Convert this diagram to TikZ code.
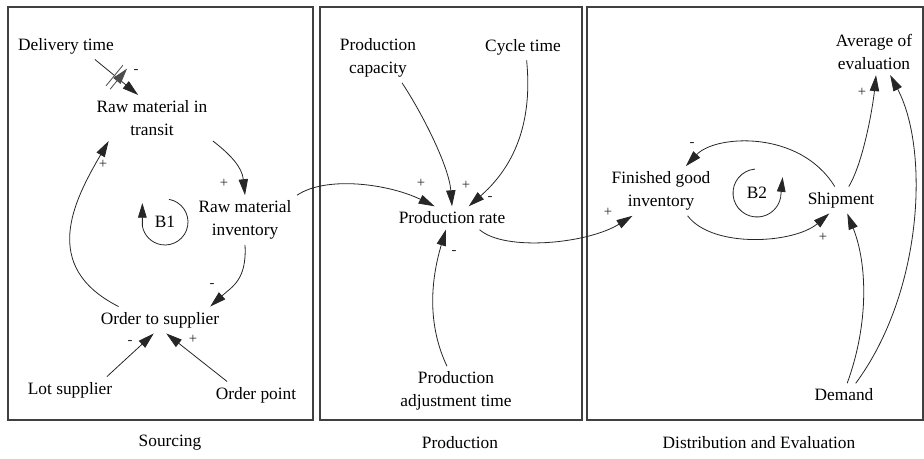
\documentclass[tikz,border=0pt]{standalone}
\usepackage{fontspec}
\setmainfont{Liberation Serif}
\usetikzlibrary{arrows.meta,decorations.markings}
\tikzset{
  concepto/.style={align=center,inner sep=4pt,font=\fontsize{13}{17}\selectfont,text=black},
  signo/.style={inner sep=0pt,font=\fontsize{11}{13}\selectfont,text=black!85},
  flecha/.style={-{Triangle[length=12pt,width=7pt]},line width=0.6pt,draw=black!85},
  bucle/.style={-{Triangle[length=11pt,width=6.5pt]},line width=0.6pt,draw=black!85},
  marco/.style={draw=black!75,line width=1.2pt},
  retardo/.style={postaction={decorate,decoration={markings,
    mark=at position 0.5 with {\draw[line width=0.6pt,black!70] (-2pt,-10pt) -- (-2pt,10pt) (2pt,-10pt) -- (2pt,10pt);}}}}
}
\begin{document}
\begin{tikzpicture}[x=0.75pt,y=-0.75pt]
    \useasboundingbox (0,0) rectangle (924,459);
    % Marcos
    \draw[marco] (8,7) rectangle (313,420);
    \draw[marco] (320,7) rectangle (582,420);
    \draw[marco] (587,7) rectangle (923,420);
    \node[concepto] (t1) at (170,443) {Sourcing};
    \node[concepto] (t2) at (460,443) {Production};
    \node[concepto] (t3) at (759,443) {Distribution and Evaluation};
    % Variables aprovisionamiento
    \node[concepto] (dt) at (66,46) {Delivery time};
    \node[concepto] (rmt) at (152,118) {Raw material in\\transit};
    \node[concepto] (rmi) at (245,220) {Raw material\\inventory};
    \node[concepto] (ots) at (160,320) {Order to supplier};
    \node[concepto] (ls) at (70,390) {Lot supplier};
    \node[concepto] (op) at (256,395) {Order point};
    \node[concepto] (b1) at (165,222) {B1};
    % Variables produccion
    \node[concepto] (pc) at (378,58) {Production\\capacity};
    \node[concepto] (ct) at (523,47) {Cycle time};
    \node[concepto] (pr) at (452,218) {Production rate};
    \node[concepto] (pat) at (456,391) {Production\\adjustment time};
    % Variables distribucion
    \node[concepto] (fgi) at (661,191) {Finished good\\inventory};
    \node[concepto] (sh) at (841,200) {Shipment};
    \node[concepto] (ae) at (874,52) {Average of\\evaluation};
    \node[concepto] (dm) at (844,395) {Demand};
    \node[concepto] (b2) at (757,193) {B2};
    % Conexiones aprovisionamiento
    \draw[flecha,retardo] (dt.-25) -- (rmt.121);
    \draw[flecha] (rmt.south east) .. controls +(18,14) and +(-3,-28) .. (rmi.north);
    \draw[flecha] (rmi.south) .. controls +(2,35) and +(22,-20) .. (ots.15);
    \draw[flecha] (ots.162) .. controls +(-79,-40) and +(-35,60) .. (rmt.-152);
    \draw[flecha] (ls.20) -- (ots.-115);
    \draw[flecha] (op.155) -- (ots.-65);
    \draw[bucle] ([shift={(-80:23)}]b1.center) arc[start angle=-80,end angle=170,radius=23] -- ++(0,-23);
    % Conexiones produccion
    \draw[flecha] (rmi.north east) .. controls +(30,-20) and +(-45,-22) .. (pr.146);
    \draw[flecha] (pc.-46) .. controls +(20,30) and +(-3,-40) .. (pr.north);
    \draw[flecha] (ct.-75) .. controls +(7,70) and +(40,-35) .. (pr.35);
    \draw[flecha] (pat.110) .. controls +(-22,-46.5) and +(-13,44) .. (pr.-118);
    \draw[flecha] (pr.-23) .. controls +(25,22) and +(-45,28) .. (fgi.-139);
    % Conexiones distribucion
    \draw[flecha] (fgi.-43) .. controls +(25,33) and +(-35,30) .. (sh.-131);
    \draw[flecha] (sh.115) .. controls +(-35,-57) and +(29.5,-31.5) .. (fgi.45);
    \draw[flecha] (sh.60) .. controls +(15,-25) and +(-3,30) .. (ae.-85);
    \draw[flecha] (dm.75) .. controls +(22,-60) and +(20,50) .. (sh.-65);
    \draw[flecha] (dm.45) .. controls +(68,-92) and +(39,73.5) .. (ae.-55);
    \draw[bucle] ([shift={(-95:24)}]b2.center) arc[start angle=-95,end angle=-350,radius=24] -- ++(2,-20);
    % Signos
    \node[signo] (s1) at (136,72) {-};
    \node[signo] (s2) at (224,183) {+};
    \node[signo] (s3) at (212,285) {-};
    \node[signo] (s4) at (103,164) {+};
    \node[signo] (s5) at (130,342) {-};
    \node[signo] (s6) at (193,339) {+};
    \node[signo] (s7) at (421,183) {+};
    \node[signo] (s8) at (466,185) {+};
    \node[signo] (s9) at (490,199) {-};
    \node[signo] (s10) at (454,253) {-};
    \node[signo] (s11) at (608,212) {+};
    \node[signo] (s12) at (823,237) {+};
    \node[signo] (s13) at (692,145) {-};
    \node[signo] (s14) at (862,92) {+};
\end{tikzpicture}
\end{document}
